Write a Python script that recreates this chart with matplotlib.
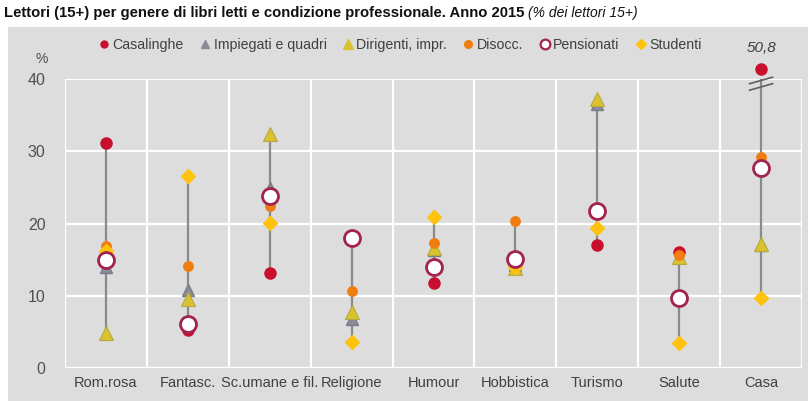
import matplotlib
matplotlib.use("Agg")
import matplotlib.pyplot as plt
from matplotlib.lines import Line2D
from matplotlib.patches import Rectangle
import matplotlib.font_manager as fm

names = {f.name for f in fm.fontManager.ttflist}
FONT = "Liberation Sans Narrow" if "Liberation Sans Narrow" in names else "Liberation Sans"
plt.rcParams["font.family"] = [FONT, "DejaVu Sans"]

categories = ["Rom.rosa", "Fantasc.", "Sc.umane e fil.", "Religione", "Humour",
              "Hobbistica", "Turismo", "Salute", "Casa"]
casalinghe = [31.1, 5.3, 13.1, 18.0, 11.7, 15.0, 17.0, 16.0, 50.8]
impiegati = [14.0, 10.8, 24.9, 6.8, 16.3, 14.2, 36.5, 15.3, 17.0]
dirigenti = [4.8, 9.6, 32.4, 7.8, 16.6, 13.8, 37.2, 15.4, 17.1]
disocc = [16.9, 14.1, 22.4, 10.6, 17.3, 20.3, 21.5, 15.7, 29.2]
pensionati = [14.9, 6.1, 23.8, 18.0, 14.0, 15.1, 21.7, 9.7, 27.7]
studenti = [16.2, 26.6, 20.1, 3.6, 20.9, 14.0, 19.4, 3.5, 9.7]
yticks = [0, 10, 20, 30, 40]

YMAX = 40
BREAK_POS = 41.4  # where an out-of-scale value is drawn

BG = "#dddddd"
C_CAS = "#c8102e"
C_IMP = "#8a8c98"
C_DIR = "#d9c230"
C_DIS = "#f07d10"
C_PEN_E = "#a3234f"
C_STU = "#ffc20e"

W, H = 808, 401
fig = plt.figure(figsize=(W / 100, H / 100), dpi=100)
fig.patches.append(Rectangle((8 / W, 0), 1, 1 - 27 / H, transform=fig.transFigure,
                             facecolor=BG, edgecolor="none", zorder=-10))

ax = fig.add_axes([65 / W, 1 - 368 / H, 737 / W, 289 / H])
ax.set_facecolor(BG)
n = len(categories)
ax.set_xlim(-0.5, n - 0.5)
ax.set_ylim(0, YMAX)
for s in ax.spines.values():
    s.set_visible(False)
for yv in yticks:
    ax.axhline(yv, color="white", lw=1.6, zorder=0)
for i in range(n + 1):
    ax.axvline(i - 0.5, color="white", lw=1.6, zorder=0)

ax.set_xticks(range(n))
ax.set_xticklabels(categories, fontsize=10.5, color="#404040")
ax.set_yticks(yticks)
ax.set_yticklabels([str(v) for v in yticks], fontsize=11.5, color="#505050")
ax.tick_params(length=0)
ax.tick_params(axis="x", pad=6)
ax.tick_params(axis="y", pad=14)

series = [casalinghe, impiegati, dirigenti, disocc, pensionati, studenti]
for i in range(n):
    vals = [s[i] for s in series]
    lo, hi = min(vals), min(max(vals), YMAX)
    ax.plot([i, i], [lo, hi], color="#8a8a8a", lw=1.6, zorder=1, solid_capstyle="butt")


def disp(v):
    return v if v <= YMAX else BREAK_POS


x = list(range(n))
ax.plot(x, [disp(v) for v in impiegati], ls="none", marker="^", ms=8.5, color=C_IMP,
        mec="#7a7c88", zorder=3, clip_on=False)
ax.plot(x, [disp(v) for v in dirigenti], ls="none", marker="^", ms=9.5, color=C_DIR,
        mec="#b8a840", mew=0.8, zorder=4, clip_on=False)
ax.plot(x, [disp(v) for v in casalinghe], ls="none", marker="o", ms=8, color=C_CAS,
        mec=C_CAS, zorder=5, clip_on=False)
ax.plot(x, [disp(v) for v in disocc], ls="none", marker="o", ms=6.8, color=C_DIS,
        mec=C_DIS, zorder=6, clip_on=False)
ax.plot(x, [disp(v) for v in studenti], ls="none", marker="D", ms=7, color=C_STU,
        mec=C_STU, zorder=6.5, clip_on=False)
ax.plot(x, [disp(v) for v in pensionati], ls="none", marker="o", ms=11.5, mfc="white",
        mec=C_PEN_E, mew=2.0, zorder=7, clip_on=False)

# axis break marks + label for out-of-scale values
for i, v in enumerate(casalinghe):
    if v > YMAX:
        for yb in (38.9, 39.8):
            ax.plot([i - 0.14, i + 0.14], [yb - 0.45, yb + 0.45], color="#606060",
                    lw=1.2, zorder=2, clip_on=False)
        ax.text(i, 44.3, f"{v:.1f}".replace(".", ","), ha="center", va="center",
                fontsize=11, style="italic", color="#404040")

fig.text(42 / W, 1 - 59 / H, "%", ha="center", va="center", fontsize=10, color="#505050")

# title
TY = 1 - 13 / H
t1 = fig.text(4 / W, TY,
              "Lettori (15+) per genere di libri letti e condizione professionale. Anno 2015 ",
              ha="left", va="center", fontsize=10.7, weight="bold", color="#111111")
fig.canvas.draw()
bb = t1.get_window_extent(fig.canvas.get_renderer())
fig.text(bb.x1 / W, TY, "(% dei lettori 15+)",
         ha="left", va="center", fontsize=10, style="italic", color="#111111")

handles = [
    Line2D([], [], ls="none", marker="o", ms=5, color=C_CAS),
    Line2D([], [], ls="none", marker="^", ms=6, color=C_IMP),
    Line2D([], [], ls="none", marker="^", ms=7, color=C_DIR),
    Line2D([], [], ls="none", marker="o", ms=5.5, color=C_DIS),
    Line2D([], [], ls="none", marker="o", ms=7, mfc="white", mec=C_PEN_E, mew=1.6),
    Line2D([], [], ls="none", marker="D", ms=5, color=C_STU),
]
labels = ["Casalinghe", "Impiegati e quadri", "Dirigenti, impr.", "Disocc.",
          "Pensionati", "Studenti"]
leg = fig.legend(handles, labels, loc="center", bbox_to_anchor=(400 / W, 1 - 45 / H),
                 ncol=6, frameon=False, fontsize=10.2, handlelength=0.8,
                 handletextpad=0.2, columnspacing=1.1, labelcolor="#404040")

fig.savefig("out.png", dpi=100, facecolor="white")
